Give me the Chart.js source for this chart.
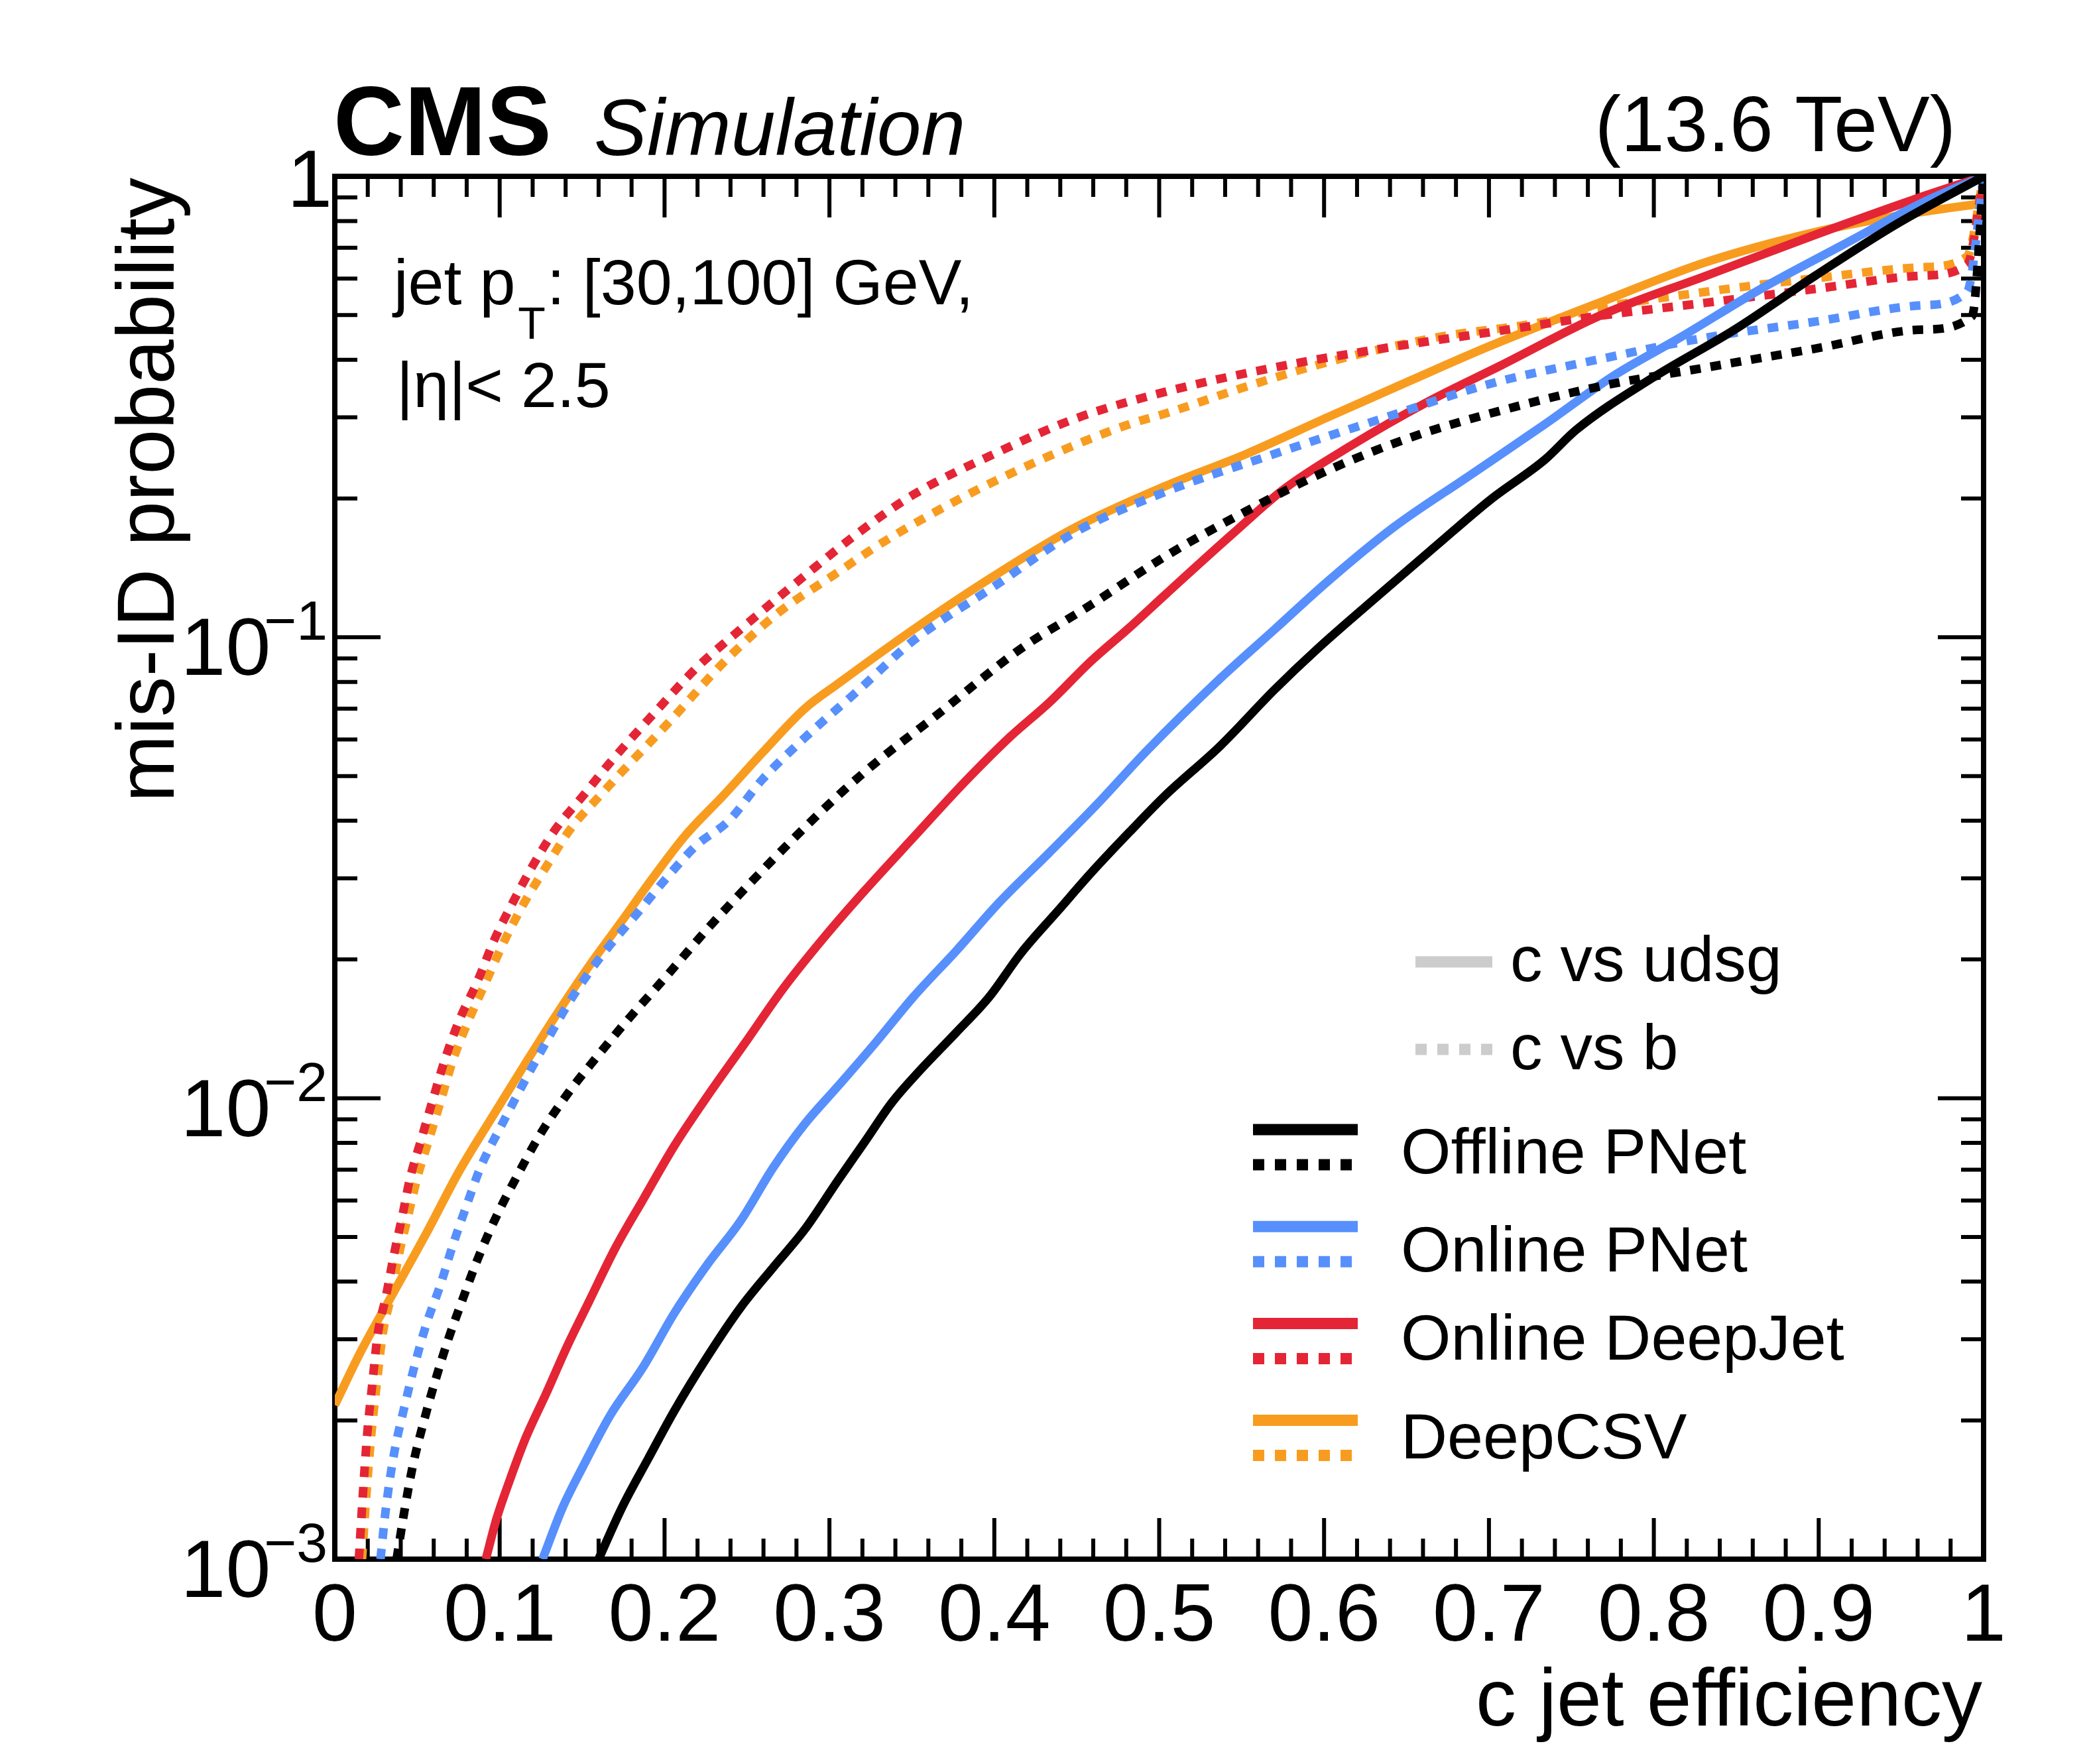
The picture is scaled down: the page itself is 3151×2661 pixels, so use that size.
<!DOCTYPE html>
<html>
<head>
<meta charset="utf-8">
<title>c jet mis-ID vs efficiency</title>
<script src="https://cdn.jsdelivr.net/npm/chart.js@4.4.1/dist/chart.umd.min.js"></script>
<style>
  html, body { margin: 0; padding: 0; background: #fff; }
  #wrap { width: 3151px; height: 2661px; }
</style>
</head>
<body>
<div id="wrap"><canvas id="roc" width="3151" height="2661"></canvas></div>
<script>
// ---- data (c jet efficiency -> mis-ID probability) ----
const effOfflineUdsg = [0.160, 0.174, 0.190, 0.206, 0.226, 0.246, 0.266, 0.285, 0.305, 0.321, 0.338, 0.354, 0.377, 0.397, 0.416, 0.439, 0.459, 0.482, 0.504, 0.537, 0.570, 0.596, 0.635, 0.668, 0.701, 0.734, 0.753, 0.799, 0.849, 0.898, 0.947, 1.0];
const misOfflineUdsg = [0.00100, 0.00129, 0.00165, 0.00210, 0.00275, 0.00351, 0.00430, 0.00519, 0.00662, 0.0080, 0.0098, 0.0114, 0.0139, 0.0166, 0.0206, 0.0256, 0.0309, 0.0378, 0.0455, 0.0581, 0.077, 0.0944, 0.125, 0.158, 0.199, 0.243, 0.282, 0.365, 0.465, 0.609, 0.787, 1.0];

const effOnlineUdsg = [0.126, 0.138, 0.151, 0.167, 0.187, 0.206, 0.226, 0.246, 0.266, 0.285, 0.305, 0.328, 0.351, 0.377, 0.403, 0.433, 0.462, 0.492, 0.537, 0.570, 0.602, 0.642, 0.688, 0.734, 0.776, 0.816, 0.865, 0.914, 0.963, 1.0];
const misOnlineUdsg = [0.00100, 0.00129, 0.00160, 0.00205, 0.00261, 0.00342, 0.00436, 0.00541, 0.00708, 0.00879, 0.0106, 0.0132, 0.0166, 0.0209, 0.0266, 0.0340, 0.0433, 0.0565, 0.0814, 0.104, 0.132, 0.173, 0.224, 0.290, 0.370, 0.447, 0.570, 0.708, 0.877, 1.0];

const effDeepJetUdsg = [0.0916, 0.098, 0.106, 0.116, 0.128, 0.141, 0.154, 0.170, 0.187, 0.206, 0.226, 0.249, 0.272, 0.298, 0.321, 0.351, 0.382, 0.410, 0.433, 0.459, 0.482, 0.504, 0.544, 0.576, 0.616, 0.662, 0.708, 0.767, 0.832, 0.898, 0.957, 1.0];
const misDeepJetUdsg = [0.00100, 0.00122, 0.00148, 0.00184, 0.00228, 0.00290, 0.00361, 0.00472, 0.00603, 0.00789, 0.0101, 0.0132, 0.0173, 0.0226, 0.0281, 0.0368, 0.0485, 0.061, 0.0720, 0.0890, 0.105, 0.124, 0.167, 0.210, 0.260, 0.323, 0.390, 0.498, 0.609, 0.747, 0.889, 1.0];

const effDeepCSVUdsg = [0.0, 0.016, 0.036, 0.056, 0.075, 0.095, 0.115, 0.134, 0.154, 0.174, 0.193, 0.213, 0.236, 0.259, 0.285, 0.305, 0.351, 0.400, 0.449, 0.504, 0.553, 0.602, 0.652, 0.701, 0.767, 0.832, 0.898, 0.947, 1.0];
const misDeepCSVUdsg = [0.00216, 0.00283, 0.00381, 0.00513, 0.0069, 0.00905, 0.0118, 0.0151, 0.0193, 0.0242, 0.0301, 0.0373, 0.0455, 0.056, 0.070, 0.0792, 0.104, 0.136, 0.173, 0.213, 0.250, 0.300, 0.360, 0.429, 0.532, 0.652, 0.757, 0.820, 0.875];

const effOfflineB = [0.0375, 0.0425, 0.0474, 0.054, 0.0605, 0.0687, 0.0769, 0.0867, 0.0982, 0.110, 0.1245, 0.141, 0.159, 0.177, 0.200, 0.226, 0.252, 0.279, 0.308, 0.331, 0.364, 0.416, 0.456, 0.504, 0.553, 0.602, 0.652, 0.701, 0.767, 0.832, 0.898, 0.963, 0.993, 1.0];
const misOfflineB = [0.00100, 0.00129, 0.00160, 0.00199, 0.00241, 0.00299, 0.00361, 0.00448, 0.00556, 0.00672, 0.00834, 0.0102, 0.0123, 0.0147, 0.0182, 0.0233, 0.0293, 0.0368, 0.0463, 0.0545, 0.0673, 0.0944, 0.116, 0.150, 0.188, 0.230, 0.271, 0.306, 0.350, 0.385, 0.423, 0.465, 0.497, 1.0];

const effOnlineB = [0.0277, 0.031, 0.0359, 0.0425, 0.049, 0.0556, 0.0638, 0.072, 0.080, 0.0884, 0.1015, 0.1146, 0.128, 0.141, 0.154, 0.167, 0.1835, 0.200, 0.2195, 0.239, 0.259, 0.285, 0.318, 0.351, 0.400, 0.449, 0.504, 0.570, 0.635, 0.701, 0.767, 0.832, 0.898, 0.963, 0.990, 1.0];
const misOnlineB = [0.00100, 0.00129, 0.00169, 0.00216, 0.00268, 0.00324, 0.00391, 0.00485, 0.00586, 0.00708, 0.00879, 0.0108, 0.0132, 0.0159, 0.0187, 0.0215, 0.0252, 0.0297, 0.0354, 0.0400, 0.0490, 0.0605, 0.077, 0.0984, 0.129, 0.169, 0.207, 0.250, 0.298, 0.355, 0.401, 0.447, 0.484, 0.525, 0.562, 1.0];

const effDeepJetB = [0.0146, 0.0169, 0.0195, 0.0228, 0.026, 0.031, 0.036, 0.041, 0.0457, 0.0523, 0.059, 0.067, 0.0753, 0.0867, 0.0966, 0.108, 0.1195, 0.134, 0.151, 0.167, 0.193, 0.2195, 0.246, 0.285, 0.318, 0.351, 0.400, 0.449, 0.504, 0.570, 0.635, 0.701, 0.767, 0.832, 0.898, 0.963, 0.990, 1.0];
const misDeepJetB = [0.00100, 0.00136, 0.00184, 0.00241, 0.00307, 0.00371, 0.00460, 0.00556, 0.00672, 0.00811, 0.0098, 0.0122, 0.0147, 0.0180, 0.0220, 0.0266, 0.0317, 0.0384, 0.0455, 0.0535, 0.0680, 0.0859, 0.104, 0.136, 0.169, 0.204, 0.250, 0.298, 0.341, 0.385, 0.423, 0.459, 0.498, 0.532, 0.570, 0.609, 0.643, 1.0];

const effDeepCSVB = [0.0165, 0.019, 0.022, 0.0255, 0.029, 0.034, 0.039, 0.0445, 0.050, 0.057, 0.064, 0.072, 0.081, 0.092, 0.103, 0.115, 0.128, 0.143, 0.160, 0.174, 0.203, 0.236, 0.269, 0.302, 0.334, 0.384, 0.433, 0.482, 0.504, 0.553, 0.602, 0.668, 0.734, 0.767, 0.832, 0.898, 0.963, 0.990, 1.0];
const misDeepCSVB = [0.00100, 0.00136, 0.00184, 0.00241, 0.00307, 0.00371, 0.00460, 0.00556, 0.00672, 0.00811, 0.0098, 0.0122, 0.0147, 0.0180, 0.0220, 0.0266, 0.0317, 0.0384, 0.0450, 0.0510, 0.0656, 0.0883, 0.113, 0.136, 0.162, 0.204, 0.247, 0.290, 0.306, 0.350, 0.395, 0.447, 0.484, 0.518, 0.562, 0.601, 0.635, 0.670, 1.0];

const taggerNames = ['Offline PNet', 'Online PNet', 'Online DeepJet', 'DeepCSV'];
const xTickValues = [0, 0.1, 0.2, 0.3, 0.4, 0.5, 0.6, 0.7, 0.8, 0.9, 1];
const xTickLabels = ['0', '0.1', '0.2', '0.3', '0.4', '0.5', '0.6', '0.7', '0.8', '0.9', '1'];
const yDecades = [0.001, 0.01, 0.1, 1];
const yDecadeExponents = ['\u22123', '\u22122', '\u22121', ''];

// ---- styles ----
const FONT = '"Liberation Sans", Arial, Helvetica, sans-serif';
const colours = ['#000000', '#5790fc', '#e42536', '#f89c20'];
const DASH = [16, 15];

function pts(xs, ys) {
    return xs.map((v, i) => ({ x: v, y: ys[i] }));
}

function curve(label, xs, ys, colour, dashed) {
    return {
        label: label,
        data: pts(xs, ys),
        borderColor: colour,
        borderWidth: 13,
        borderDash: dashed ? DASH : [],
        borderCapStyle: 'butt',
        borderJoinStyle: 'round',
        cubicInterpolationMode: 'monotone',
        pointRadius: 0,
        fill: false
    };
}

// index 0 is drawn on top
const datasets = [
    curve('Offline PNet c vs b', effOfflineB, misOfflineB, colours[0], true),
    curve('Offline PNet c vs udsg', effOfflineUdsg, misOfflineUdsg, colours[0], false),
    curve('Online PNet c vs b', effOnlineB, misOnlineB, colours[1], true),
    curve('Online PNet c vs udsg', effOnlineUdsg, misOnlineUdsg, colours[1], false),
    curve('Online DeepJet c vs b', effDeepJetB, misDeepJetB, colours[2], true),
    curve('Online DeepJet c vs udsg', effDeepJetUdsg, misDeepJetUdsg, colours[2], false),
    curve('DeepCSV c vs b', effDeepCSVB, misDeepCSVB, colours[3], true),
    curve('DeepCSV c vs udsg', effDeepCSVUdsg, misDeepCSVUdsg, colours[3], false)
];

// frame + inward ticks, ROOT style
const rootFrame = {
    id: 'rootFrame',
    beforeDatasetsDraw(chart) {
        const ctx = chart.ctx;
        const a = chart.chartArea;
        const xs = chart.scales.x, ys = chart.scales.y;
        ctx.save();
        ctx.strokeStyle = '#000';
        ctx.lineWidth = 6;
        ctx.beginPath();
        for (let i = 0; i <= 50; i++) {
            const px = xs.getPixelForValue(i / 50);
            const len = (i % 5 === 0) ? 62 : 31;
            ctx.moveTo(px, a.bottom); ctx.lineTo(px, a.bottom - len);
            ctx.moveTo(px, a.top); ctx.lineTo(px, a.top + len);
        }
        yDecades.forEach((d, k) => {
            const py = ys.getPixelForValue(d);
            ctx.moveTo(a.left, py); ctx.lineTo(a.left + 69, py);
            ctx.moveTo(a.right, py); ctx.lineTo(a.right - 69, py);
            if (k < yDecades.length - 1) {
                for (let m = 2; m <= 9; m++) {
                    const pm = ys.getPixelForValue(m * d);
                    ctx.moveTo(a.left, pm); ctx.lineTo(a.left + 34, pm);
                    ctx.moveTo(a.right, pm); ctx.lineTo(a.right - 34, pm);
                }
            }
        });
        ctx.stroke();
        ctx.lineWidth = 8;
        ctx.strokeRect(a.left, a.top, a.right - a.left, a.bottom - a.top);
        ctx.restore();
    },
    afterDraw(chart) {
        const ctx = chart.ctx;
        const xs = chart.scales.x, ys = chart.scales.y;
        ctx.save();
        ctx.fillStyle = '#000';
        ctx.textBaseline = 'alphabetic';

        // x tick labels
        ctx.font = '122px ' + FONT;
        ctx.textAlign = 'center';
        xTickValues.forEach((v, i) => {
            ctx.fillText(xTickLabels[i], xs.getPixelForValue(v), 2475);
        });

        // y tick labels 10^n
        yDecades.forEach((d, i) => {
            const py = ys.getPixelForValue(d);
            const exp = yDecadeExponents[i];
            if (!exp) {
                ctx.font = '122px ' + FONT;
                ctx.textAlign = 'right';
                ctx.fillText('1', 501, py + 46);
                return;
            }
            ctx.font = '84px ' + FONT;
            ctx.textAlign = 'right';
            const supW = ctx.measureText(exp).width;
            ctx.fillText(exp, 494, py + 4);
            ctx.font = '122px ' + FONT;
            ctx.fillText('10', 498 - supW + 6, py + 57);
        });

        // axis titles
        ctx.font = '122px ' + FONT;
        ctx.textAlign = 'right';
        ctx.fillText('c jet efficiency', 2990, 2603);
        ctx.save();
        ctx.translate(262, 268);
        ctx.rotate(-Math.PI / 2);
        ctx.fillText('mis-ID probability', 0, 0);
        ctx.restore();

        // header
        ctx.textAlign = 'left';
        ctx.font = 'bold 148px ' + FONT;
        ctx.fillText('CMS', 503, 234);
        ctx.font = 'italic 120px ' + FONT;
        ctx.fillText('Simulation', 896, 234);
        ctx.textAlign = 'right';
        ctx.font = '118px ' + FONT;
        ctx.fillText('(13.6 TeV)', 2950, 228);

        // selection text
        ctx.textAlign = 'left';
        ctx.font = '97px ' + FONT;
        let tx = 594;
        ctx.fillText('jet p', tx, 459);
        tx += ctx.measureText('jet p').width;
        ctx.font = '68px ' + FONT;
        ctx.fillText('T', tx + 4, 511);
        tx += ctx.measureText('T').width + 6;
        ctx.font = '97px ' + FONT;
        ctx.fillText(': [30,100] GeV,', tx, 459);
        ctx.fillText('|\u03b7|< 2.5', 598, 614);

        // legend: line style key
        ctx.lineCap = 'butt';
        ctx.lineWidth = 17;
        ctx.strokeStyle = '#cccccc';
        ctx.beginPath();
        ctx.moveTo(2135, 1451); ctx.lineTo(2251, 1451);
        ctx.stroke();
        ctx.setLineDash([17, 16]);
        ctx.beginPath();
        ctx.moveTo(2135, 1583); ctx.lineTo(2251, 1583);
        ctx.stroke();
        ctx.setLineDash([]);
        ctx.fillText('c vs udsg', 2278, 1480);
        ctx.fillText('c vs b', 2278, 1613);

        // legend: taggers
        const textOffsets = [66, 68, 55, 57];
        taggerNames.forEach((name, i) => {
            const yc = 1704 + i * 146.2;
            ctx.strokeStyle = colours[i];
            ctx.beginPath();
            ctx.moveTo(1890, yc); ctx.lineTo(2048, yc);
            ctx.stroke();
            ctx.setLineDash([17, 16]);
            ctx.beginPath();
            ctx.moveTo(1890, yc + 53); ctx.lineTo(2048, yc + 53);
            ctx.stroke();
            ctx.setLineDash([]);
            ctx.fillText(name, 2113, yc + textOffsets[i]);
        });
        ctx.restore();
    }
};

new Chart(document.getElementById('roc').getContext('2d'), {
    type: 'line',
    data: { datasets: datasets },
    options: {
        responsive: false,
        animation: false,
        devicePixelRatio: 1,
        layout: { padding: { left: 505, top: 266, right: 3151 - 2992, bottom: 2661 - 2352 } },
        plugins: {
            legend: { display: false },
            tooltip: { enabled: false },
            title: { display: false }
        },
        scales: {
            x: { type: 'linear', min: 0, max: 1, display: false },
            y: { type: 'logarithmic', min: 0.001, max: 1, display: false }
        }
    },
    plugins: [rootFrame]
});
</script>
</body>
</html>
